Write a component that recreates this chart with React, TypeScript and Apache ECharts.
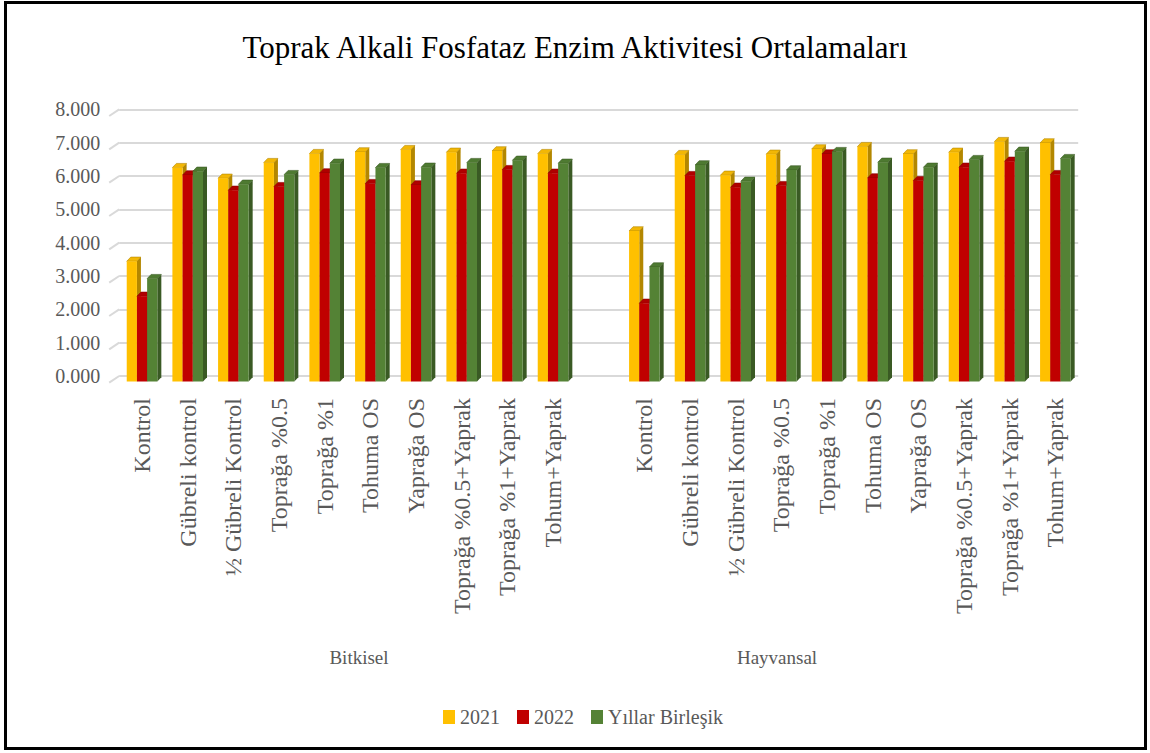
import React, { useEffect, useRef } from "react";
import * as echarts from "echarts";

const treatments = [
  "Kontrol",
  "Gübreli kontrol",
  "½ Gübreli Kontrol",
  "Toprağa %0.5",
  "Toprağa %1",
  "Tohuma OS",
  "Yaprağa OS",
  "Toprağa %0.5+Yaprak",
  "Toprağa %1+Yaprak",
  "Tohum+Yaprak",
];
const groups = ["Bitkisel", "Hayvansal"];
const seriesNames = ["2021", "2022", "Yıllar Birleşik"];

const y2021Bitkisel = [3.57, 6.38, 6.06, 6.53, 6.8, 6.85, 6.92, 6.84, 6.88, 6.8];
const y2022Bitkisel = [2.52, 6.16, 5.7, 5.81, 6.22, 5.9, 5.86, 6.21, 6.32, 6.21];
const combBitkisel = [3.05, 6.27, 5.88, 6.17, 6.51, 6.38, 6.39, 6.53, 6.6, 6.51];
const y2021Hayvansal = [4.48, 6.77, 6.15, 6.78, 6.94, 7.01, 6.79, 6.84, 7.16, 7.12];
const y2022Hayvansal = [2.31, 6.14, 5.79, 5.84, 6.79, 6.07, 5.99, 6.39, 6.57, 6.17];
const combHayvansal = [3.4, 6.46, 5.97, 6.31, 6.86, 6.54, 6.39, 6.62, 6.87, 6.65];

const yTicks = [0, 1, 2, 3, 4, 5, 6, 7, 8];

const FONT = "Liberation Serif";
const GRAY = "#595959";

// categories: group 1, one empty spacer, group 2
const categories = [...treatments, "", ...treatments];

function toPoints(a: number[], b: number[]) {
  const pts: number[][] = [];
  a.forEach((v, i) => pts.push([i, v]));
  b.forEach((v, i) => pts.push([i + treatments.length + 1, v]));
  return pts;
}

const palettes = [
  { front: "#FFC000", side: "#B38700", top: "#F2B705" },
  { front: "#C00000", side: "#8A0000", top: "#B00000" },
  { front: "#548235", side: "#3A5A24", top: "#4E7A31" },
];

function barRenderer(s: number) {
  return (params: any, api: any) => {
    const idx = api.value(0);
    const val = api.value(1);
    const top = api.coord([idx, val]);
    const base = api.coord([idx, 0]);
    const w = 10.2;
    const dx = 4;
    const dy = 4.2;
    const x0 = top[0] - 1.5 * w + s * w;
    const yT = top[1] + 4.3;
    const yB = base[1] + 5.5;
    const p = palettes[s];
    return {
      type: "group",
      children: [
        {
          type: "polygon",
          shape: { points: [[x0 + w, yT], [x0 + w + dx, yT - dy], [x0 + w + dx, yB - dy], [x0 + w, yB]] },
          style: { fill: p.side },
        },
        {
          type: "polygon",
          shape: { points: [[x0, yT], [x0 + dx, yT - dy], [x0 + w + dx, yT - dy], [x0 + w, yT]] },
          style: { fill: p.top, stroke: p.side, lineWidth: 0.6 },
        },
        {
          type: "rect",
          shape: { x: x0, y: yT, width: w, height: yB - yT },
          style: { fill: p.front },
        },
      ],
    };
  };
}

export default function App() {
  const ref = useRef<HTMLDivElement>(null);
  useEffect(() => {
    document.body.style.margin = "0";
    if (!ref.current) return;
    const chart = echarts.init(ref.current, null, { renderer: "svg" });
    const dataSets = [
      toPoints(y2021Bitkisel, y2021Hayvansal),
      toPoints(y2022Bitkisel, y2022Hayvansal),
      toPoints(combBitkisel, combHayvansal),
    ];
    const option: any = {
      animation: false,
      backgroundColor: "#ffffff",
      textStyle: { fontFamily: FONT },
      title: {
        text: "Toprak Alkali Fosfataz Enzim Aktivitesi Ortalamaları",
        left: "center",
        top: 27,
        textStyle: { fontFamily: FONT, fontSize: 31, fontWeight: "normal", color: "#000000" },
      },
      legend: {
        data: seriesNames.map((n, i) => ({ name: n, icon: "rect", itemStyle: { color: palettes[i].front } })),
        left: 438,
        top: 702,
        itemWidth: 12,
        itemHeight: 14,
        itemGap: 17,
        textStyle: { fontFamily: FONT, fontSize: 20, color: GRAY },
      },
      grid: { left: 119.2, top: 109.3, width: 959, height: 266.7, containLabel: false },
      xAxis: {
        type: "category",
        data: categories,
        boundaryGap: true,
        axisLine: { show: false },
        axisTick: { show: false },
        axisLabel: {
          rotate: 90,
          interval: 0,
          margin: 22,
          fontFamily: FONT,
          fontSize: 24,
          color: GRAY,
        },
        splitLine: { show: false },
      },
      yAxis: {
        type: "value",
        min: 0,
        max: 8,
        interval: 1,
        axisLine: { show: false },
        axisTick: { show: false },
        axisLabel: {
          margin: 19,
          fontFamily: FONT,
          fontSize: 20,
          color: GRAY,
          formatter: (v: number) => v.toFixed(3),
        },
        splitLine: { lineStyle: { color: "#d9d9d9", width: 2 } },
      },
      graphic: [
        {
          type: "rect",
          shape: { x: 5.5, y: 2.5, width: 1140, height: 746 },
          style: { fill: "none", stroke: "#000000", lineWidth: 3 },
          z: 100,
        },
        {
          type: "text",
          x: 359,
          y: 657,
          style: { text: groups[0], fontFamily: FONT, fontSize: 19, fill: GRAY, align: "center", verticalAlign: "middle" },
        },
        {
          type: "text",
          x: 777,
          y: 657,
          style: { text: groups[1], fontFamily: FONT, fontSize: 19, fill: GRAY, align: "center", verticalAlign: "middle" },
        },
      ],
      series: [
        {
          type: "custom",
          name: "wall",
          silent: true,
          data: yTicks.map((t) => [0, t]),
          encode: { x: 0, y: 1 },
          renderItem: (params: any, api: any) => {
            const pt = api.coord([0, api.value(1)]);
            const left = params.coordSys.x;
            return {
              type: "line",
              shape: { x1: left - 10, y1: pt[1] + 6.7, x2: left, y2: pt[1] },
              style: { stroke: "#d9d9d9", lineWidth: 2 },
            };
          },
          clip: false,
          z: 1,
        },
        ...seriesNames.map((n, s) => ({
          type: "custom",
          name: n,
          data: dataSets[s],
          encode: { x: 0, y: 1 },
          itemStyle: { color: palettes[s].front },
          renderItem: barRenderer(s),
          clip: false,
          z: 2 + s,
        })),
      ],
    };
    chart.setOption(option);
    return () => chart.dispose();
  }, []);
  return <div ref={ref} style={{ width: 1150, height: 753 }} />;
}
